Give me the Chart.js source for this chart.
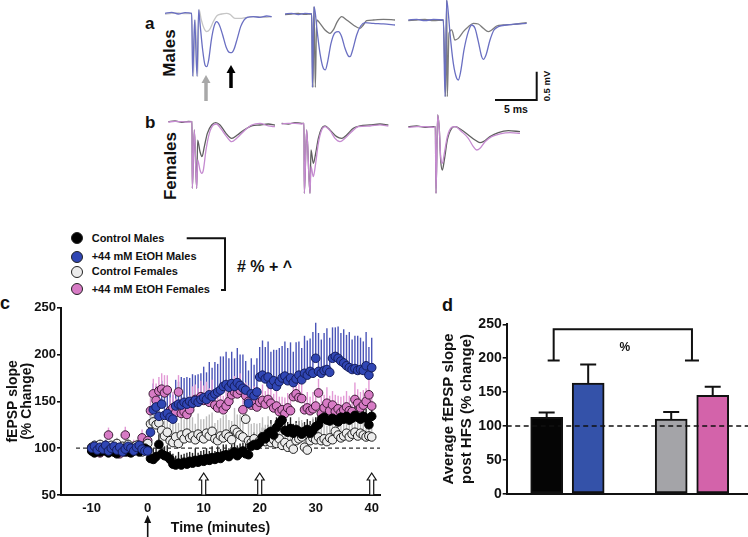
<!DOCTYPE html>
<html><head><meta charset="utf-8">
<script src="https://cdn.jsdelivr.net/npm/chart.js@4/dist/chart.umd.min.js"></script>
<style>
html,body{margin:0;padding:0;background:#fff;}
body{width:748px;height:537px;position:relative;overflow:hidden;font-family:"Liberation Sans",Arial,sans-serif;}
canvas{position:absolute;}
.t{position:absolute;font-weight:bold;color:#111;white-space:nowrap;line-height:1;}
.rot{transform:translate(-50%,-50%) rotate(-90deg);}
.dot{position:absolute;width:10px;height:10px;border-radius:50%;border:1px solid #222;}
svg{position:absolute;left:0;top:0;}
</style></head><body>

<div class="t" style="left:145px;top:15px;font-size:17px;">a</div>
<div class="t rot" style="left:169px;top:53px;font-size:17px;">Males</div>
<div class="t" style="left:145px;top:114px;font-size:17px;">b</div>
<div class="t rot" style="left:170px;top:166px;font-size:17px;">Females</div>
<div class="t" style="left:504px;top:104px;font-size:10.5px;">5 ms</div>
<div class="t rot" style="left:547px;top:86px;font-size:9.5px;">0.5 mV</div>
<div class="t" style="left:0px;top:294px;font-size:18px;">c</div>
<div class="t" style="left:442px;top:296px;font-size:18px;">d</div>
<div class="t" style="left:237px;top:259px;font-size:16px;"># % + ^</div>
<div id="legend"></div>

<canvas id="a1" width="120" height="100" style="left:160px;top:0px"></canvas>
<canvas id="a2" width="120" height="100" style="left:280px;top:0px"></canvas>
<canvas id="a3" width="130" height="100" style="left:400px;top:0px"></canvas>
<canvas id="b1" width="120" height="90" style="left:160px;top:110px"></canvas>
<canvas id="b2" width="120" height="90" style="left:280px;top:110px"></canvas>
<canvas id="b3" width="130" height="90" style="left:400px;top:110px"></canvas>
<canvas id="cC" width="400" height="247" style="left:0px;top:290px"></canvas>
<canvas id="cD" width="308" height="247" style="left:440px;top:290px"></canvas>

<svg width="748" height="537">
  <path d="M186.7 238.3 H225 V290 H221" fill="none" stroke="#111" stroke-width="2"/>
  <path d="M495 100 H536.7 V71.7" fill="none" stroke="#111" stroke-width="2"/>
  <line x1="206" y1="101" x2="206" y2="82" stroke="#a8a8a8" stroke-width="3.5"/>
  <polygon points="201.5,83 210.5,83 206,75" fill="#a8a8a8"/>
  <line x1="231" y1="88" x2="231" y2="72" stroke="#000" stroke-width="3.5"/>
  <polygon points="226.5,73 235.5,73 231,65" fill="#000"/>
</svg>

<script>
// ---------- representative traces (time ms from stimulus, mV from baseline) ----------
const A1_ETOH = [[-3.32,0],[-2.52,0.018],[-1.72,-0.012],[-0.92,0.012],[-0.12,0],[0,-1.106],[0.24,-0.118],[0.52,-1.106],[0.72,0.059],[0.88,-0.176],[1.2,-0.647],[1.48,-0.912],[1.68,-0.941],[1.92,-0.824],[2.24,-0.471],[2.56,-0.235],[2.88,-0.147],[3.2,-0.206],[3.6,-0.382],[4.0,-0.588],[4.4,-0.688],[4.68,-0.694],[4.96,-0.635],[5.36,-0.441],[5.76,-0.235],[6.16,-0.118],[6.56,-0.071],[7.28,-0.059],[8.08,-0.071],[8.88,-0.047],[9.48,-0.059]];
const A1_CTRL = [[-3.32,-0.012],[-2.52,0],[-1.72,0.006],[-0.92,-0.006],[-0.12,0],[0.08,-1.118],[0.32,-0.118],[0.6,-1.118],[0.76,0.071],[1.04,-0.118],[1.36,-0.265],[1.68,-0.324],[2.0,-0.294],[2.48,-0.147],[2.88,-0.047],[3.48,-0.012],[4.08,0],[4.48,-0.018],[5.08,-0.088],[5.68,-0.088],[6.48,-0.071],[7.68,-0.059],[8.88,-0.071],[9.48,-0.059]];
const A2_ETOH = [[-3.28,0],[-2.48,0.012],[-1.68,-0.012],[-0.88,0.012],[-0.08,0],[0,-1.294],[0.2,0.129],[0.36,0.012],[0.52,-0.224],[0.92,-0.694],[1.32,-0.959],[1.56,-0.988],[1.84,-0.841],[2.24,-0.518],[2.72,-0.329],[3.12,-0.312],[3.52,-0.4],[3.92,-0.606],[4.32,-0.741],[4.52,-0.753],[4.84,-0.635],[5.32,-0.371],[5.8,-0.212],[6.32,-0.153],[7.32,-0.165],[8.52,-0.176],[9.92,-0.194]];
const A2_CTRL = [[-3.28,-0.012],[-2.48,0],[-1.68,0.012],[-0.88,-0.006],[-0.08,0],[0.08,-1.294],[0.2,0.129],[0.36,-1.294],[0.52,-0.106],[0.92,-0.165],[1.52,-0.282],[2.12,-0.341],[2.52,-0.282],[3.0,-0.135],[3.52,-0.047],[4.12,-0.106],[4.92,-0.194],[5.72,-0.253],[6.12,-0.194],[6.52,-0.118],[7.32,-0.106],[8.52,-0.094],[9.92,-0.106]];
const A3_ETOH = [[-4.4,0],[-3.4,0.012],[-2.4,-0.012],[-1.4,0.012],[-0.2,0],[0,-1.353],[0.2,0.353],[0.4,0.118],[0.6,-0.235],[1.0,-0.765],[1.4,-1.029],[1.6,-1.059],[1.88,-0.912],[2.28,-0.529],[2.8,-0.206],[3.2,-0.088],[3.6,-0.147],[4.0,-0.382],[4.4,-0.647],[4.6,-0.694],[4.92,-0.618],[5.4,-0.353],[5.88,-0.176],[6.4,-0.118],[7.4,-0.088],[8.6,-0.071],[9.8,-0.059]];
const A3_CTRL = [[-4.4,-0.012],[-3.4,0],[-2.4,0.012],[-1.4,-0.012],[-0.2,0],[0.08,-1.353],[0.2,0.353],[0.28,-1.353],[0.48,-0.235],[0.8,-0.176],[1.2,-0.353],[1.6,-0.324],[2.2,-0.206],[2.8,-0.118],[3.4,-0.059],[4.0,-0.071],[4.6,-0.147],[5.2,-0.206],[5.6,-0.176],[6.2,-0.106],[7.0,-0.088],[8.2,-0.076],[9.8,-0.047]];
const B1_ETOH = [[-2.88,-0.006],[-2.08,0.006],[-1.28,0],[-0.48,-0.006],[-0.04,0],[0,-1.176],[0.24,-0.147],[0.52,-1.176],[0.64,-0.676],[0.92,-0.853],[1.12,-0.912],[1.32,-0.853],[1.64,-0.5],[2.04,-0.206],[2.52,-0.059],[2.92,-0.041],[3.4,-0.118],[4.12,-0.265],[4.72,-0.353],[5.32,-0.294],[6.12,-0.176],[7.12,-0.059],[8.12,-0.029],[9.12,-0.076],[9.92,-0.088]];
const B1_CTRL = [[-2.88,0],[-2.08,0.012],[-1.28,-0.012],[-0.48,0.006],[-0.04,0],[0,-1.176],[0.24,-0.147],[0.52,-1.176],[0.64,-0.324],[0.92,-0.529],[1.16,-0.618],[1.44,-0.441],[1.8,-0.206],[2.32,-0.059],[2.8,-0.018],[3.32,-0.059],[4.04,-0.206],[4.72,-0.294],[5.4,-0.235],[6.2,-0.147],[7.12,-0.076],[8.12,-0.059],[9.12,-0.041],[9.92,-0.059]];
const B2_ETOH = [[-2.72,-0.012],[-1.92,0],[-1.12,0],[-0.32,-0.012],[-0.04,0],[0,-1.235],[0.28,-0.118],[0.68,-1.235],[0.8,-0.765],[1.08,-0.941],[1.36,-0.706],[1.68,-0.353],[2.08,-0.118],[2.48,-0.059],[3.08,-0.129],[3.68,-0.265],[4.28,-0.324],[4.88,-0.265],[5.68,-0.147],[6.48,-0.059],[7.88,-0.047],[9.08,-0.029],[10.08,-0.047]];
const B2_CTRL = [[-2.72,0],[-1.92,-0.012],[-1.12,0.012],[-0.32,0],[-0.04,0],[0,-1.235],[0.28,-0.118],[0.68,-1.235],[0.8,-0.471],[1.08,-0.706],[1.36,-0.529],[1.68,-0.265],[2.08,-0.088],[2.48,-0.047],[3.08,-0.118],[3.88,-0.235],[4.48,-0.265],[5.08,-0.206],[5.88,-0.088],[6.68,-0.047],[7.88,-0.029],[9.08,-0.012],[10.08,-0.029]];
const B3_ETOH = [[-3.32,-0.012],[-2.32,0],[-1.32,0],[-0.32,-0.012],[-0.08,0],[0,-1.176],[0.2,0.206],[0.4,-0.059],[0.56,-0.529],[0.76,-0.647],[1.0,-0.471],[1.36,-0.176],[1.88,-0.012],[2.28,0],[3.08,-0.088],[3.88,-0.206],[4.48,-0.353],[4.88,-0.412],[5.28,-0.382],[5.88,-0.265],[6.68,-0.176],[7.68,-0.129],[8.88,-0.106],[10.08,-0.118]];
const B3_CTRL = [[-3.32,0],[-2.32,0.012],[-1.32,-0.012],[-0.32,0],[-0.08,0],[0,-1.176],[0.2,0.206],[0.4,-0.059],[0.56,-0.588],[0.76,-0.765],[1.0,-0.588],[1.36,-0.235],[1.88,-0.029],[2.28,0],[3.08,-0.059],[3.88,-0.147],[4.68,-0.235],[5.28,-0.282],[5.68,-0.265],[6.48,-0.176],[7.48,-0.106],[8.68,-0.071],[10.08,-0.088]];

// ---------- panel c: fEPSP slope time course ----------
const TIME_MIN = [
 -10,-9.5,-9,-8.5,-8,-7.5,-7,-6.5,-6,-5.5,
 -5,-4.5,-4,-3.5,-3,-2.5,-2,-1.5,-1,-0.5,
 0,0.5,1,1.5,2,2.5,3,3.5,4,4.5,
 5,5.5,6,6.5,7,7.5,8,8.5,9,9.5,
 10,10.5,11,11.5,12,12.5,13,13.5,14,14.5,
 15,15.5,16,16.5,17,17.5,18,18.5,19,19.5,
 20,20.5,21,21.5,22,22.5,23,23.5,24,24.5,
 25,25.5,26,26.5,27,27.5,28,28.5,29,29.5,
 30,30.5,31,31.5,32,32.5,33,33.5,34,34.5,
 35,35.5,36,36.5,37,37.5,38,38.5,39,39.5,
 40];
const CTRL_M = [
 97,95,98,96,99,97,95,98,96,94,
 97,99,96,98,95,97,99,96,98,100,
 98,89,88,91,104,94,92,91,88,83,
 82,84,82,85,83,86,84,87,85,88,
 86,89,87,90,88,91,89,92,93,91,
 94,96,92,95,97,94,93,102,104,103,
 106,112,110,116,118,114,122,127,130,119,
 117,121,116,120,118,115,118,120,116,119,
 123,125,131,133,130,129,132,130,128,133,
 131,134,130,132,135,133,131,134,132,125,
 134];
const CTRL_M_SEM = [
 4,5,3,6,4,5,3,5,4,6,
 5,4,6,3,5,4,6,5,4,7,
 8,10,12,9,11,13,10,12,9,11,
 10,12,11,9,12,10,11,13,10,9,
 12,11,10,12,9,11,10,12,11,9,
 10,12,11,10,9,11,12,10,13,11,
 12,10,11,9,12,10,11,13,12,10,
 11,12,10,9,11,12,10,11,13,12,
 10,11,12,9,10,11,12,10,11,13,
 12,10,11,12,10,9,11,12,10,11,
 12];
const ETOH_M = [
 100,102,98,101,99,103,97,100,102,98,
 101,96,99,102,100,97,101,103,99,97,
 97,117,141,144,134,147,135,137,133,131,
 145,147,146,149,147,150,148,151,149,152,
 154,152,157,155,158,160,162,166,168,165,
 169,166,170,167,164,162,148,158,156,160,
 176,178,174,176,168,172,166,171,175,177,
 172,175,170,174,178,173,180,178,182,180,
 196,182,180,183,184,181,196,198,196,193,
 191,188,186,184,185,183,184,183,188,178,
 186];
const ETOH_M_SEM = [
 5,6,4,7,5,6,4,6,5,7,
 6,5,7,4,6,5,7,6,5,8,
 10,18,28,22,30,25,27,24,29,26,
 28,24,30,26,29,25,31,27,30,28,
 33,29,35,31,34,30,36,32,35,31,
 34,30,37,33,36,31,35,38,33,36,
 32,37,34,38,35,33,39,36,34,37,
 35,38,33,39,36,34,40,37,35,44,
 38,41,36,40,44,37,33,31,34,30,
 36,33,38,32,35,37,34,31,36,30,
 32];
const CTRL_F = [
 101,103,99,104,100,102,98,103,101,105,
 99,102,100,104,98,101,103,99,96,102,
 105,126,128,125,127,119,113,117,108,106,
 112,105,114,110,116,111,113,109,115,112,
 110,116,113,118,110,108,113,111,115,112,
 109,120,117,114,112,131,108,106,110,104,
 108,112,107,111,106,109,105,110,103,106,
 101,104,99,108,110,112,101,98,108,111,
 109,112,108,110,107,111,109,118,114,111,
 113,116,112,115,117,113,116,114,112,113,
 112];
const CTRL_F_SEM = [
 5,4,6,5,7,4,6,5,8,6,
 7,5,9,6,5,7,6,8,6,9,
 10,18,20,17,22,19,16,21,18,20,
 17,22,19,21,18,23,20,17,22,19,
 21,18,23,20,17,22,19,24,21,18,
 20,23,19,22,18,21,24,20,17,22,
 19,21,18,23,20,17,22,19,21,18,
 20,17,22,19,23,18,21,20,17,22,
 19,22,18,21,17,20,23,19,22,18,
 21,18,22,19,17,20,23,21,18,20,
 19];
const ETOH_F = [
 100,98,101,95,99,103,114,98,96,101,
 94,99,114,96,100,102,98,104,111,103,
 108,140,158,151,161,163,159,162,140,143,
 138,160,137,139,136,141,148,152,150,155,
 151,153,149,156,146,143,147,141,145,150,
 157,160,158,162,141,156,150,146,148,144,
 149,151,147,152,148,143,145,139,141,137,
 143,140,155,158,154,153,141,143,140,142,
 145,159,137,143,148,140,146,139,142,138,
 141,144,140,139,152,148,143,146,150,157,
 145];
const ETOH_F_SEM = [
 5,6,4,7,6,5,8,6,5,7,
 6,5,9,6,5,7,6,8,9,7,
 10,14,16,18,15,17,19,16,14,17,
 15,18,16,14,17,15,18,16,14,17,
 16,18,15,17,14,16,18,15,17,16,
 14,17,15,18,16,14,17,15,18,16,
 15,17,14,16,18,15,17,16,14,17,
 16,14,17,15,18,16,14,17,15,18,
 16,15,18,14,17,16,15,18,14,17,
 15,17,16,14,18,15,17,16,14,18,
 15];
const X_TICKS_C = [-10,0,10,20,30,40];
const Y_TICKS_C = [50,100,150,200,250];
const HFS_TIMES = [10,20,40];
const STIM_TIME = 0;
const BASELINE = 100;

// ---------- panel d: averages ----------
const GROUPS = ['Control Males','+44 mM EtOH Males','Control Females','+44 mM EtOH Females'];
const AVG_POST = [112.7,163.4,110.2,145.2];
const AVG_SEM = [7.3,27.1,10.4,12.8];
const Y_TICKS_D = [0,50,100,150,200,250];
const SIG_LABEL = '%';

Chart.defaults.font.family = '"Liberation Sans", Arial, sans-serif';
Chart.defaults.color = '#111';

// ---------- legend (HTML) ----------
const LEG_FILL = ['#000000','#3046b4','#ececec','#d77bc5'];
const LEG_Y = [238.3,256.7,271.7,289];
const leg = document.getElementById('legend');
GROUPS.forEach((g,i)=>{
  const d = document.createElement('div'); d.className='dot';
  d.style.left='71px'; d.style.top=(LEG_Y[i]-6)+'px'; d.style.background=LEG_FILL[i];
  leg.appendChild(d);
  const t = document.createElement('div'); t.className='t';
  t.style.left='91.7px'; t.style.top=(LEG_Y[i]-5.5)+'px'; t.style.fontSize='11px'; t.textContent=g;
  leg.appendChild(t);
});

// ---------- traces ----------
const PANELS = [
 {id:'a1', drug:A1_ETOH, ctrl:A1_CTRL, dc:'#6a6fc2', cc:'#c6c6c6', xr:[-3.92,10.48], yr:[-1.529,0.235]},
 {id:'a2', drug:A2_ETOH, ctrl:A2_CTRL, dc:'#6a6fc2', cc:'#777777', xr:[-3.88,10.52], yr:[-1.518,0.247]},
 {id:'a3', drug:A3_ETOH, ctrl:A3_CTRL, dc:'#6a6fc2', cc:'#7d7d7d', xr:[-5.4,10.2], yr:[-1.412,0.353]},
 {id:'b1', drug:B1_ETOH, ctrl:B1_CTRL, dc:'#c58ad0', cc:'#5e5e5e', xr:[-3.88,10.52], yr:[-1.382,0.206]},
 {id:'b2', drug:B2_ETOH, ctrl:B2_CTRL, dc:'#c58ad0', cc:'#5e5e5e', xr:[-2.92,11.48], yr:[-1.353,0.235]},
 {id:'b3', drug:B3_ETOH, ctrl:B3_CTRL, dc:'#c58ad0', cc:'#5e5e5e', xr:[-4.32,11.28], yr:[-1.294,0.294]}
];
PANELS.forEach(p=>{
  const ds = (arr,col)=>({data:arr.map(a=>({x:a[0],y:a[1]})), showLine:true, borderColor:col, borderWidth:1.3, pointRadius:0, cubicInterpolationMode:'monotone', fill:false});
  new Chart(document.getElementById(p.id), {
    type:'scatter',
    data:{datasets:[ds(p.drug,p.dc), ds(p.ctrl,p.cc)]},
    options:{responsive:false, animation:false, events:[], layout:{padding:0},
      plugins:{legend:{display:false},tooltip:{enabled:false}},
      scales:{x:{display:false,min:p.xr[0],max:p.xr[1]}, y:{display:false,min:p.yr[0],max:p.yr[1]}}}
  });
});

// ---------- panel c ----------
const errPlugin = {
  id:'errC',
  beforeDatasetsDraw(chart){
    const {ctx, scales:{x,y}} = chart;
    chart.data.datasets.forEach(ds=>{
      if(!ds.sem) return;
      ctx.save(); ctx.strokeStyle = ds.semColor; ctx.lineWidth = 1.4;
      ds.data.forEach((p,i)=>{
        const px = x.getPixelForValue(p.x);
        ctx.beginPath(); ctx.moveTo(px, y.getPixelForValue(p.y)); ctx.lineTo(px, y.getPixelForValue(p.y + ds.sem[i])); ctx.stroke();
      });
      ctx.restore();
    });
  },
  afterDraw(chart){
    const {ctx, scales:{x,y}} = chart;
    ctx.save();
    const yb = y.getPixelForValue(Y_TICKS_C[0]);
    HFS_TIMES.forEach(t=>{
      const px = x.getPixelForValue(t);
      ctx.beginPath();
      ctx.moveTo(px-2,yb); ctx.lineTo(px-2,yb-15); ctx.lineTo(px-4.5,yb-15); ctx.lineTo(px,yb-22);
      ctx.lineTo(px+4.5,yb-15); ctx.lineTo(px+2,yb-15); ctx.lineTo(px+2,yb); ctx.closePath();
      ctx.fillStyle='#fff'; ctx.fill(); ctx.strokeStyle='#111'; ctx.lineWidth=1.2; ctx.stroke();
    });
    const sx = x.getPixelForValue(STIM_TIME);
    ctx.strokeStyle='#111'; ctx.lineWidth=1.6;
    ctx.beginPath(); ctx.moveTo(sx, chart.height); ctx.lineTo(sx, chart.height-15); ctx.stroke();
    ctx.beginPath(); ctx.moveTo(sx-3.5, chart.height-14); ctx.lineTo(sx, chart.height-22); ctx.lineTo(sx+3.5, chart.height-14); ctx.closePath();
    ctx.fillStyle='#111'; ctx.fill();
    ctx.restore();
  }
};
const series = (vals, sem, fill, border, semColor)=>({
  data: TIME_MIN.map((t,i)=>({x:t,y:vals[i]})), sem, semColor,
  pointRadius:4.3, pointBackgroundColor:fill, pointBorderColor:border, pointBorderWidth:1, showLine:false
});
new Chart(document.getElementById('cC'), {
  type:'scatter',
  data:{datasets:[
    series(ETOH_M, ETOH_M_SEM, '#3046b4', '#141c5a', '#4b55b8'),
    series(CTRL_M, CTRL_M_SEM, '#000000', '#000000', '#222222'),
    series(CTRL_F, CTRL_F_SEM, '#ececec', '#1e1e1e', '#bdbdbd'),
    series(ETOH_F, ETOH_F_SEM, '#d77bc5', '#3a1a34', '#e39ad6'),
    {data:[{x:-12.8,y:BASELINE},{x:41.5,y:BASELINE}], showLine:true, pointRadius:0, borderColor:'#333', borderWidth:1.2, borderDash:[4,3]}
  ]},
  options:{responsive:false, animation:false, events:[],
    layout:{padding:{top:17.7,right:20,left:0,bottom:0}},
    plugins:{legend:{display:false},tooltip:{enabled:false}},
    scales:{
      x:{type:'linear', min:-15.48, max:41.48,
         afterBuildTicks(s){ s.ticks = X_TICKS_C.map(v=>({value:v})); },
         afterFit(s){ s.height = 42; },
         grid:{display:false, drawTicks:false},
         border:{display:true, color:'#111', width:2},
         ticks:{padding:6, autoSkip:false, maxRotation:0, font:{size:13, weight:'bold'}, color:'#111'},
         title:{display:true, text:'Time (minutes)', color:'#111', font:{size:14, weight:'bold', lineHeight:1.2}, padding:{top:0,bottom:0}}},
      y:{min:50, max:250,
         afterBuildTicks(s){ s.ticks = Y_TICKS_C.map(v=>({value:v})); },
         afterFit(s){ s.width = 61; },
         grid:{drawOnChartArea:false, drawTicks:true, tickLength:4, color:'#111', lineWidth:1.6},
         border:{display:true, color:'#111', width:2},
         ticks:{padding:1, font:{size:13, weight:'bold'}, color:'#111'},
         title:{display:true, text:['fEPSP slope','(% Change)'], color:'#111', font:{size:14, weight:'bold', lineHeight:1.0}, padding:{top:6,bottom:0}}}
    }},
  plugins:[errPlugin]
});

// ---------- panel d ----------
const slot = i => (i < 2 ? i : i + 1);
const dPlugin = {
  id:'dExtras',
  afterDatasetsDraw(chart){
    const {ctx, scales:{x,y}} = chart;
    ctx.save();
    ctx.strokeStyle='#111'; ctx.lineWidth=2;
    AVG_POST.forEach((v,i)=>{
      const px = x.getPixelForValue(slot(i));
      const y0 = y.getPixelForValue(v), y1 = y.getPixelForValue(v + AVG_SEM[i]);
      ctx.beginPath(); ctx.moveTo(px,y0); ctx.lineTo(px,y1); ctx.moveTo(px-8,y1); ctx.lineTo(px+8,y1); ctx.stroke();
    });
    const yb = y.getPixelForValue(BASELINE);
    ctx.setLineDash([5,3.5]); ctx.lineWidth=1.5;
    ctx.beginPath(); ctx.moveTo(chart.chartArea.left, yb); ctx.lineTo(chart.chartArea.right, yb); ctx.stroke();
    ctx.setLineDash([]);
    const xl = x.getPixelForValue(slot(0)) + 7, xr = (x.getPixelForValue(slot(2)) + x.getPixelForValue(slot(3)))/2;
    const yt = y.getPixelForValue(242.6), yd = y.getPixelForValue(196.4);
    ctx.lineWidth=2;
    ctx.beginPath(); ctx.moveTo(xl,yd); ctx.lineTo(xl,yt); ctx.lineTo(xr,yt); ctx.lineTo(xr,yd); ctx.stroke();
    ctx.beginPath(); ctx.moveTo(xl-6,yd); ctx.lineTo(xl+6,yd); ctx.moveTo(xr-7,yd); ctx.lineTo(xr+7,yd); ctx.stroke();
    ctx.fillStyle='#111'; ctx.font='bold 12px "Liberation Sans", Arial, sans-serif';
    ctx.textAlign='center'; ctx.textBaseline='middle';
    ctx.fillText(SIG_LABEL, x.getPixelForValue(1.88), y.getPixelForValue(216));
    ctx.restore();
  }
};
new Chart(document.getElementById('cD'), {
  type:'bar',
  data:{datasets:[{
    data: AVG_POST.map((v,i)=>({x:slot(i), y:v})),
    backgroundColor:['#050505','#3452a9','#a4a4a8','#d363aa'],
    borderColor:'#111', borderWidth:2, borderSkipped:false, barThickness:32
  }]},
  options:{responsive:false, animation:false, events:[],
    layout:{padding:{top:34.3,right:0,left:0,bottom:0}},
    plugins:{legend:{display:false},tooltip:{enabled:false}},
    scales:{
      x:{type:'linear', min:-0.963, max:4.85, offset:false,
         afterFit(s){ s.height = 43.3; },
         ticks:{display:false}, grid:{display:false, drawTicks:false, offset:false},
         border:{display:true, color:'#111', width:2}},
      y:{min:0, max:250,
         afterBuildTicks(s){ s.ticks = Y_TICKS_D.map(v=>({value:v})); },
         afterFit(s){ s.width = 66.7; },
         grid:{drawOnChartArea:false, drawTicks:true, tickLength:4, color:'#111', lineWidth:1.6},
         border:{display:true, color:'#111', width:2},
         ticks:{padding:1, font:{size:14, weight:'bold'}, color:'#111'},
         title:{display:true, text:['Average fEPSP slope','post HFS (% change)'], color:'#111', font:{size:15, weight:'bold', lineHeight:1.16}, padding:{top:0.6,bottom:0}}}
    }},
  plugins:[dPlugin]
});
</script>
</body></html>
